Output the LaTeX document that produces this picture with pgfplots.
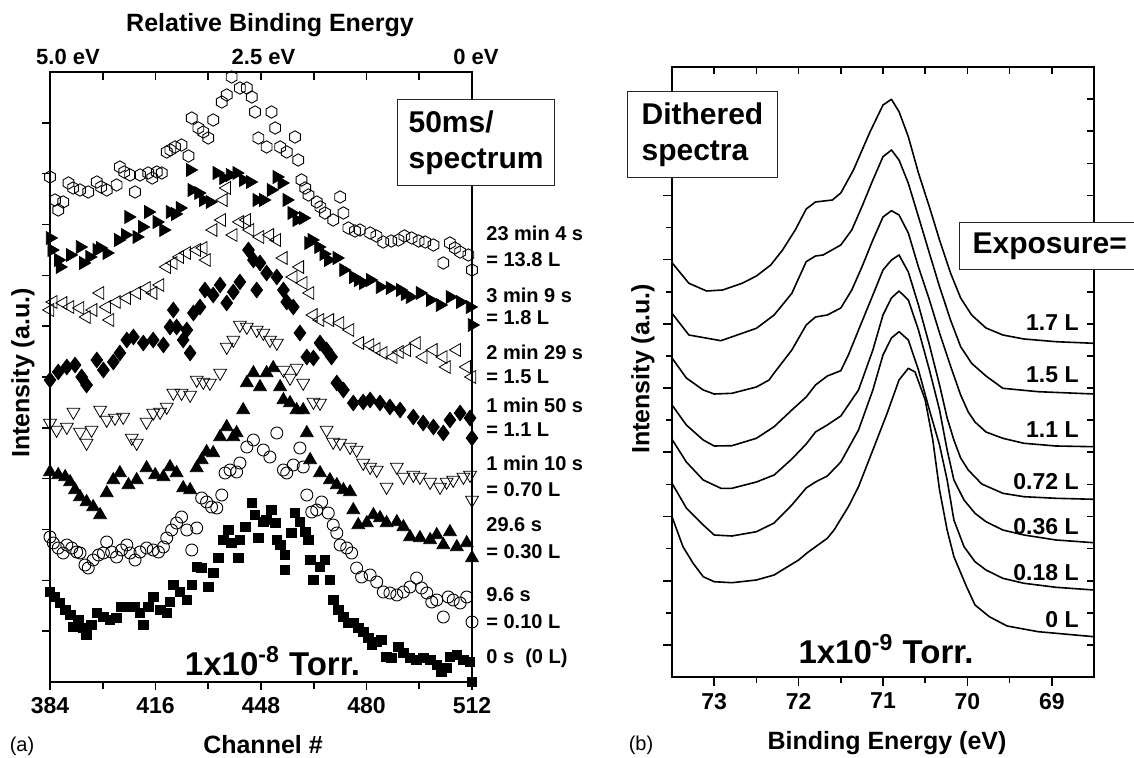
\documentclass[border=0pt]{standalone}
\usepackage{fontspec}
\setmainfont{Liberation Sans}
\usepackage{pgfplots}
\pgfplotsset{compat=1.18}
\pgfdeclareplotmark{hexagon}{%
 \pgfpathmoveto{\pgfqpointpolar{90}{\pgfplotmarksize}}%
 \pgfpathlineto{\pgfqpointpolar{150}{\pgfplotmarksize}}%
 \pgfpathlineto{\pgfqpointpolar{210}{\pgfplotmarksize}}%
 \pgfpathlineto{\pgfqpointpolar{270}{\pgfplotmarksize}}%
 \pgfpathlineto{\pgfqpointpolar{330}{\pgfplotmarksize}}%
 \pgfpathlineto{\pgfqpointpolar{30}{\pgfplotmarksize}}%
 \pgfpathclose\pgfusepathqstroke}
\newcommand\fa{\fontsize{11.5}{13}\selectfont\bfseries}
\newcommand\fb{\fontsize{12.5}{14}\selectfont\bfseries}
\newcommand\fc{\fontsize{10}{12}\selectfont\bfseries}
\newcommand\fd{\fontsize{15}{18}\selectfont\bfseries}
\newcommand\fe{\fontsize{16.5}{19}\selectfont\bfseries}
\pgfplotsset{
 base/.style={scale only axis, width=211pt, height=305pt, anchor=south west,
   axis line style={line width=0.9pt}, every tick/.style={black, line width=0.8pt},
   /pgf/number format/assume math mode=true},
 mk/.style={only marks, mark options={draw=black, line width=0.45pt}},
 cv/.style={black, line width=0.8pt, line join=round, mark=none},
}
\begin{document}
\begin{tikzpicture}
\path[use as bounding box] (0,0) rectangle (567pt,-379pt);
% ---------------- left panel -----------------
\begin{axis}[base, at={(25pt,-341pt)}, xmin=384, xmax=512, ymin=0, ymax=610, clip=false,
  xtick={384,416,448,480,512}, xticklabels={384,416,448,480,512}, minor xtick={400,432,464,496},
  ytick={50.83,101.67,152.5,203.33,254.17,305,355.83,406.67,457.5,508.33,559.17}, yticklabels={},
  tick align=outside, xtick pos=left, ytick pos=left, major tick length=4pt, minor tick length=3.5pt,
  ticklabel style={font=\fa}]
% hexagons 23 min 4 s
\addplot[mk, mark=hexagon, mark size=3.1pt] coordinates {
(384,505)(385.5,482)(386.5,472)(388,480)(389.6,499)(391,494)(393.1,492)(395.6,490)(398.2,500)(399.5,495)(401.2,492)(404.2,497)(405.2,515)(406.5,510)(408.3,507)(409.8,490)(411.3,507)(413.8,509)(415,504)(416.4,510)(417.9,509)(419.4,530)(420.5,532)(421.9,535)(423.9,537)(426,526)(427,564)(429,554)(430.5,550)(432,544)(433.5,562)(436.1,580)(437.6,587)(439.1,605)(441.6,594)(443.7,594)(445.2,585)(446.2,570)(447.2,544)(449.7,535)(451.2,570)(452.3,554)(453.8,535)(455.8,530)(458.3,545)(459.3,522)(460.3,502)(461.4,494)(462.4,487)(464.9,480)(466,475)(467.4,469)(469.9,462)(472,485)(473,469)(474.5,454)(476.5,451)(478,452)(481.1,449)(483,446)(485.1,440)(487.5,441)(489.7,442)(491.5,446)(493.7,444)(495.8,441)(497.8,440)(500.3,437)(503.3,419)(505.3,439)(506.8,434)(508.4,430)(510.9,427)(512,412)};
% right triangles filled 3 min 9 s
\addplot[mk, mark=triangle*, mark size=3.7pt, mark options={rotate=-90, fill=black}] coordinates {
(384,444)(384.5,432)(386.5,422)(387,415)(390.1,427)(393.1,435)(394.1,419)(396,425)(398.2,432)(399.2,434)(401.2,429)(404.7,442)(406.8,447)(407.8,465)(410.3,445)(412,455)(413.8,470)(416.4,460)(418.4,452)(420.4,470)(422,468)(423.4,474)(426.5,512)(427,492)(429,489)(430.5,482)(432.5,480)(434.6,509)(436.6,504)(438.6,507)(440.6,509)(442.6,502)(444.7,500)(446.7,482)(448.7,482)(451,492)(452.8,505)(454.3,499)(455.8,482)(457.3,469)(458.8,462)(460.8,464)(462.4,439)(463.4,442)(465.4,435)(467,428)(468.4,422)(471,424)(473,412)(476,405)(477.5,402)(479,399)(481.1,402)(484.1,395)(487.1,394)(490.2,392)(491.7,388)(493.2,385)(496.2,389)(499.3,382)(502.3,377)(505.3,385)(508.4,380)(511.4,375)(512,357)};
% left triangles open 2 min 29 s
\addplot[mk, mark=triangle, mark size=3.7pt, mark options={rotate=90}] coordinates {
(384,372)(385,380)(388,379)(390.1,375)(393.1,374)(395.1,365)(397.1,372)(399.2,389)(401.2,375)(402.2,362)(404.2,380)(407.3,384)(410.3,389)(413.3,394)(415.3,389)(417.4,397)(419.4,415)(421.4,419)(423.4,425)(425.5,429)(428.5,432)(430.5,434)(431.5,422)(433.5,452)(436.1,462)(436.6,482)(437.6,494)(439.6,447)(441.6,460)(443.7,462)(444.7,452)(447.7,445)(450.7,447)(452.8,442)(454.8,424)(457.8,405)(459.8,415)(460.8,399)(462.9,389)(463.9,367)(465.9,362)(468.9,362)(472,359)(475,352)(478,339)(481.1,337)(483,333)(485.1,329)(488.1,325)(490,330)(492.2,332)(495.2,339)(497.2,325)(500.3,332)(503.3,325)(504.3,315)(507.4,332)(510.4,315)(512,305)};
% diamonds 1 min 50 s
\addplot[mk, mark=diamond*, mark size=3.9pt, mark options={fill=black}] coordinates {
(384,302)(386.5,310)(389.1,315)(391.6,317)(393.6,305)(395.1,297)(398.2,322)(400.2,312)(403.2,320)(405.2,329)(407.3,342)(409.3,345)(412.3,339)(415.3,342)(418.4,337)(420.4,355)(421.4,372)(422.4,355)(424.4,342)(425.5,352)(426.5,329)(427.5,369)(429.5,375)(431,392)(433.5,387)(435.6,397)(437.6,379)(439.6,390)(441.6,400)(444.2,432)(445.7,422)(446.7,392)(447.7,419)(449.7,409)(452.8,405)(454.8,392)(455.8,380)(457.8,375)(459.8,349)(461.9,325)(463.9,324)(465.9,339)(467.9,332)(469.4,325)(471,299)(473,292)(476,279)(479,280)(481.1,282)(484.1,279)(487.1,275)(490.2,272)(494.2,265)(497.2,259)(500.3,255)(503.3,249)(505.3,262)(508.4,269)(511.4,264)(512,244)};
% down triangles open 1 min 10 s
\addplot[mk, mark=triangle, mark size=3.7pt, mark options={rotate=180}] coordinates {
(384,259)(386,252)(389.1,255)(391.1,270)(393.1,250)(395.1,239)(396.6,252)(399.2,272)(401.2,262)(403.7,264)(406.2,265)(408.8,244)(410.3,239)(413.3,260)(415.3,269)(417.4,270)(419.4,275)(421.4,289)(423.9,289)(426.5,287)(428.5,302)(430.5,300)(432.5,299)(435.6,309)(437.6,335)(439.6,342)(441.6,357)(443.7,355)(446.7,352)(448.7,349)(450.7,342)(452.8,339)(454.8,312)(456.8,304)(458.8,314)(460.8,299)(463.9,280)(465.9,279)(467.9,252)(469.9,240)(472,239)(475,235)(477,232)(479,219)(481.1,215)(483.1,212)(486.1,195)(489.2,215)(491.2,205)(494.2,207)(496.2,205)(499.3,200)(502.3,195)(504.3,200)(506.3,202)(509.4,205)(511.4,207)(512,182)};
% up triangles filled 29.6 s
\addplot[mk, mark=triangle*, mark size=3.7pt, mark options={fill=black}] coordinates {
(384,210)(386.5,207)(388.6,205)(390.1,200)(391.6,192)(393.1,185)(395.1,180)(397.1,175)(399.2,167)(401.2,189)(403.2,202)(405.2,209)(407.8,197)(410.3,202)(413.3,214)(415.9,207)(418.4,205)(420.4,215)(422.4,209)(424.4,194)(426.5,192)(428.5,214)(430,222)(431.5,230)(433.5,229)(435.6,245)(437.6,255)(439.6,245)(440.6,249)(442.6,272)(443.7,299)(445.7,309)(447.7,295)(449.7,309)(451.7,314)(453.8,295)(454.8,282)(456.8,279)(458.8,272)(460.8,272)(461.9,249)(462.9,222)(465.9,209)(468.9,202)(471,197)(473,192)(475,190)(476,172)(477.5,157)(480.1,159)(482.1,167)(484.1,164)(486.1,159)(489.2,160)(491.2,155)(493.2,145)(496.2,144)(499.3,142)(501.3,147)(503.3,137)(505.3,150)(507.4,135)(510.4,139)(512,124)};
% circles open 9.6 s
\addplot[mk, mark=o, mark size=3pt] coordinates {
(384,145)(385,139)(386.5,134)(388,129)(389.1,137)(390.6,134)(392.1,130)(393.1,129)(394.6,117)(395.6,114)(397.1,122)(398.7,127)(400.2,129)(401.2,140)(402.7,130)(404.2,125)(405.7,132)(407.3,137)(408.3,129)(409.8,122)(411.3,130)(413.3,134)(415.3,132)(416.9,130)(418.4,135)(419.4,144)(420.9,152)(422.4,159)(423.9,165)(425.5,152)(427,132)(428.5,154)(430,184)(431.5,180)(433,175)(434.6,174)(436.1,187)(437.1,209)(438.6,212)(440.6,210)(441.6,219)(443.7,235)(445.7,242)(448.7,232)(450.7,225)(452.8,249)(454.8,212)(455.8,209)(457.8,217)(459.8,234)(460.8,215)(461.9,187)(463.4,170)(464.9,172)(466.4,180)(468.4,169)(469.9,157)(471,149)(472,137)(474,134)(475.5,129)(477,114)(478.5,105)(481.1,107)(483.1,100)(485.1,90)(487.1,89)(489.2,87)(491.2,90)(493.2,95)(495.2,104)(496.7,94)(498.3,89)(499.8,80)(501.3,82)(503.3,65)(504.8,85)(506.3,82)(508.4,79)(510.4,85)(512,60)};
% squares filled 0 s
\addplot[mk, mark=square*, mark size=2.4pt, mark options={fill=black}] coordinates {
(384,90)(385.5,85)(387,79)(388.6,72)(390.1,67)(391.1,55)(392.6,62)(394.1,54)(395.1,47)(396.6,57)(398.2,69)(400.2,65)(402.2,62)(404.2,64)(405.7,75)(407.8,75)(409.8,75)(411.3,69)(412.3,57)(413.8,75)(415.3,85)(417.4,72)(419.4,69)(420.4,80)(421.4,97)(423.4,90)(425.5,82)(427,97)(428.5,115)(430,114)(432,95)(433.5,109)(435.1,124)(436.6,142)(438.1,152)(439.1,139)(441.1,124)(441.6,142)(443.2,155)(445.2,179)(446.2,167)(447.2,144)(448.7,160)(449.7,162)(451.2,172)(452.3,159)(452.8,142)(453.8,137)(455.3,127)(455.3,112)(457.3,149)(458.3,169)(459.8,160)(461.4,150)(462.4,142)(462.9,122)(463.9,102)(465.9,115)(467.4,122)(468.9,102)(469.9,82)(471.5,72)(473,65)(474.5,59)(476,59)(477.5,54)(479,50)(480.6,44)(481.6,37)(483.1,40)(484.6,42)(486.1,25)(487.6,24)(489.7,35)(491.2,29)(493.2,24)(495.2,22)(497.2,24)(499.3,22)(501.3,17)(502.8,10)(504.3,14)(505.3,25)(507.4,27)(509.4,22)(511.4,20)(512,0)};
\end{axis}
\begin{axis}[base, at={(25pt,-341pt)}, xmin=384, xmax=512, ymin=0, ymax=1,
  axis x line*=top, axis y line=none, xtick={384,400,...,512}, xticklabels={},
  tick align=inside, major tick length=4pt]
\addplot[draw=none] coordinates {(400,0.5)};
\end{axis}
% ---------------- right panel -----------------
\begin{axis}[base, at={(336pt,-338.5pt)}, x dir=reverse, xmin=68.5, xmax=73.5, ymin=0, ymax=610,
  xtick={69,70,71,72,73}, xticklabels={69,70,71,72,73}, minor xtick={69.5,70.5,71.5,72.5},
  ytick={32.1,96.3,160.5,224.7,288.9,353.1,417.3,481.5,545.7}, yticklabels={},
  minor ytick={64.2,128.4,192.6,256.8,321,385.2,449.4,513.6,577.8},
  tick align=outside, xtick pos=left, ytick pos=left, major tick length=4.5pt, minor tick length=3pt,
  ticklabel style={font=\fa}]
\addplot[cv] coordinates {(73.50,414.3)(73.30,393.7)(73.09,386)(72.90,387)(72.67,393.7)(72.50,401)(72.33,412)(72.19,427)(72.04,447)(71.91,468)(71.80,475)(71.60,477)(71.50,484)(71.35,507)(71.16,544)(71.00,572)(70.90,577.7)(70.81,565.3)(70.70,540.3)(70.58,504)(70.45,470)(70.33,437)(70.20,404)(70.08,379)(69.95,362)(69.78,349)(69.58,342)(69.33,338)(68.95,335.3)(68.5,333.7)};
\addplot[cv] coordinates {(73.50,363.7)(73.30,342)(72.92,336.3)(72.67,343.7)(72.50,348.7)(72.29,362)(72.08,383.7)(71.91,415.3)(71.80,421)(71.71,422)(71.50,432)(71.37,447)(71.25,470.3)(71.12,497)(71.00,520.3)(70.90,527)(70.81,517)(70.70,493.7)(70.58,460.3)(70.45,423.7)(70.33,390.3)(70.20,357)(70.08,330.3)(69.95,313.7)(69.78,301)(69.58,288.7)(69.16,285.3)(68.5,283)};
\addplot[cv] coordinates {(73.50,319)(73.33,299)(73.13,287)(73.00,283)(72.79,283.7)(72.50,290)(72.35,297)(72.29,304)(72.08,327)(71.91,352)(71.80,360)(71.66,362)(71.50,369)(71.37,387)(71.25,410)(71.12,437)(71.00,460)(70.90,466.3)(70.81,462)(70.70,444)(70.58,410)(70.45,377)(70.33,344)(70.20,311)(70.08,282)(69.99,265)(69.91,255)(69.78,245)(69.58,238.7)(69.33,233.7)(68.95,231)(68.5,230.3)};
\addplot[cv] coordinates {(73.50,272)(73.33,252)(73.13,237)(73.00,231)(72.79,231.3)(72.50,238.7)(72.29,250.3)(72.08,267)(71.91,280)(71.80,292)(71.66,301)(71.50,306.3)(71.41,322)(71.29,347)(71.12,382)(71.00,407)(70.90,417)(70.81,422)(70.70,405)(70.58,372)(70.45,332)(70.33,292)(70.24,259)(70.16,237)(70.08,219)(69.99,207)(69.83,193)(69.58,183.7)(69.33,180.3)(68.95,178.7)(68.5,177.7)};
\addplot[cv] coordinates {(73.50,237.7)(73.33,215)(73.13,197)(72.92,188.7)(72.79,188.7)(72.50,195)(72.29,202)(72.08,218)(71.91,233)(71.80,245)(71.66,252)(71.50,261)(71.29,287)(71.12,327)(71.00,362)(70.90,379)(70.81,386)(70.70,377)(70.58,347)(70.45,307)(70.33,267)(70.24,227)(70.16,197)(70.04,177)(69.91,163.7)(69.78,155.3)(69.58,147)(69.33,142)(68.95,137)(68.5,134.3)};
\addplot[cv] coordinates {(73.50,193.7)(73.33,169)(73.13,152)(73.00,142)(72.79,141)(72.50,145.3)(72.29,154)(72.08,172)(71.91,189)(71.80,195)(71.66,201)(71.50,215)(71.29,247)(71.12,287)(71.00,322)(70.90,339)(70.81,345.3)(70.70,337)(70.58,307)(70.45,267)(70.33,232)(70.24,197)(70.16,157)(70.04,130.3)(69.91,115.3)(69.78,107)(69.58,98.7)(69.33,93.7)(68.95,89.7)(68.5,87)};
\addplot[cv] coordinates {(73.50,160.3)(73.37,130.3)(73.25,113.7)(73.13,100.3)(73.00,95.3)(72.79,94.3)(72.50,97)(72.29,102)(72.00,117)(71.89,124.7)(71.66,138.7)(71.58,147)(71.41,170.3)(71.29,190.3)(71.12,227)(70.95,264)(70.81,297)(70.70,308.7)(70.62,305)(70.50,277)(70.41,237)(70.33,187)(70.24,147)(70.16,120.3)(70.01,90.3)(69.91,72)(69.74,60.3)(69.53,51)(69.16,45.3)(68.5,40.3)};
\end{axis}
\begin{axis}[base, at={(336pt,-338.5pt)}, x dir=reverse, xmin=68.5, xmax=73.5, ymin=0, ymax=610,
  axis x line*=top, axis y line*=right, xtick={69,69.5,...,73}, xticklabels={},
  ytick={32.1,64.2,96.3,128.4,160.5,192.6,224.7,256.8,288.9,321,353.1,385.2,417.3,449.4,481.5,513.6,545.7,577.8}, yticklabels={},
  tick align=inside, major tick length=3.5pt]
\addplot[draw=none] coordinates {(70,100)};
\end{axis}
% ---------------- texts left -----------------
\node[font=\fb] at (135pt,-12.5pt) {Relative Binding Energy};
\node[font=\fontsize{11}{13}\selectfont\bfseries] at (34pt,-28.5pt) {5.0 eV};
\node[font=\fontsize{11}{13}\selectfont\bfseries] at (131.75pt,-28.5pt) {2.5 eV};
\node[font=\fontsize{11}{13}\selectfont\bfseries] at (238pt,-28.5pt) {0 eV};
\node[font=\fb] at (131.5pt,-372.5pt) {Channel \#};
\node[font=\fontsize{10}{12}\selectfont] at (11pt,-373pt) {(a)};
\node[font=\fb, rotate=90] at (11.5pt,-186.5pt) {Intensity (a.u.)};
\node[font=\fe, anchor=base] at (136.25pt,-337.5pt) {1x10\textsuperscript{-8} Torr.};
\node[draw=black!85, fill=white, line width=0.6pt, inner xsep=5.5pt, inner ysep=5.5pt, anchor=north west, align=left, font=\fd] at (198.5pt,-49.5pt) {50ms/\\spectrum};
\foreach \t/\y in {{23 min 4 s}/233, {= 13.8 L}/260, {3 min 9 s}/295, {= 1.8 L}/318, {2 min 29 s}/352, {= 1.5 L}/377, {1 min 50 s}/405, {= 1.1 L}/430, {1 min 10 s}/463, {= 0.70 L}/490, {29.6 s}/525, {= 0.30 L}/552, {9.6 s}/595, {= 0.10 L}/622, {0 s~~(0 L)}/658}
  \node[font=\fc, anchor=west, inner sep=0pt] at (243pt,-\y pt/2) {\t};
% ---------------- texts right -----------------
\node[draw=black!85, fill=white, line width=0.6pt, inner xsep=7pt, inner ysep=5.5pt, anchor=north west, align=left, font=\fd] at (313.5pt,-45.5pt) {Dithered\\spectra};
\node[draw=black!85, fill=white, line width=0.6pt, inner xsep=6.5pt, inner ysep=5pt, anchor=north west, font=\fd] at (479.5pt,-111pt) {Exposure=\hspace{20pt}};
\foreach \t/\y in {{1.7 L}/323, {1.5 L}/375, {1.1 L}/430, {0.72 L}/481.7, {0.36 L}/526.7, {0.18 L}/572.7, {0 L}/620}
  \node[font=\fa, anchor=east, inner sep=0pt] at (539.5pt,-\y pt/2) {\t};
\node[font=\fe, anchor=base] at (443pt,-331.5pt) {1x10\textsuperscript{-9} Torr.};
\node[font=\fb, rotate=90] at (321.5pt,-184.5pt) {Intensity (a.u.)};
\node[font=\fb] at (443.5pt,-371.5pt) {Binding Energy (eV)};
\node[font=\fontsize{10}{12}\selectfont] at (320.5pt,-372.5pt) {(b)};
\end{tikzpicture}
\end{document}
